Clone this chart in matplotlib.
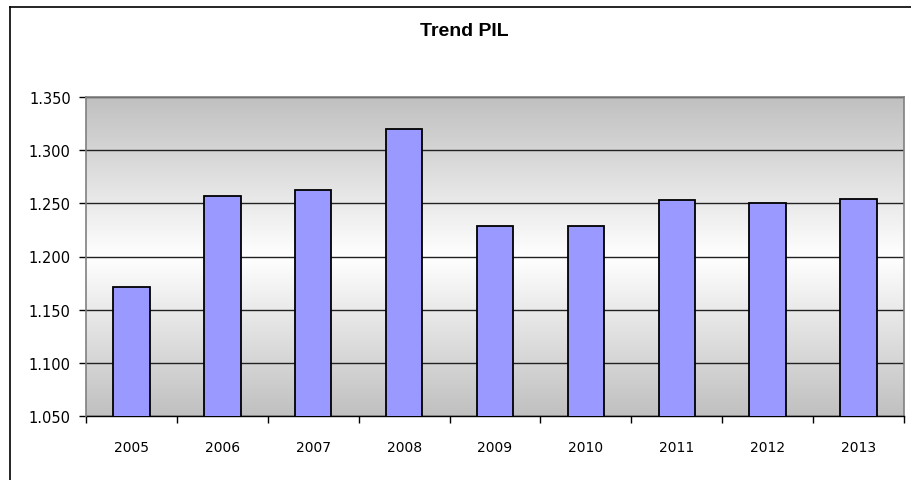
import numpy as np
import matplotlib
matplotlib.use("Agg")
import matplotlib.pyplot as plt
from matplotlib.colors import LinearSegmentedColormap
from matplotlib.ticker import FuncFormatter, FixedLocator
from matplotlib.lines import Line2D

years = ["2005", "2006", "2007", "2008", "2009", "2010", "2011", "2012", "2013"]
pil = [1171, 1257, 1263, 1320, 1229, 1229, 1253, 1250, 1254]
y_ticks = [1050, 1100, 1150, 1200, 1250, 1300, 1350]
title = "Trend PIL"

fig = plt.figure(figsize=(9.11, 4.81), dpi=100)
ax = fig.add_axes([86 / 911, 1 - 417 / 481, (904 - 86) / 911, (417 - 98) / 481])

# gradient background (gray - white - gray)
cmap = LinearSegmentedColormap.from_list("g", ["#c0c0c0", "#ffffff", "#c0c0c0"])
grad = np.linspace(0, 1, 256).reshape(-1, 1)
ax.imshow(grad, cmap=cmap, aspect="auto", extent=[0, 1, 0, 1],
          transform=ax.transAxes, zorder=0)

x = np.arange(len(years))
ax.bar(x, pil, width=0.4, color="#9999ff", edgecolor="black", linewidth=1.3, zorder=3)

ax.set_xlim(-0.5, len(years) - 0.5)
ax.set_ylim(y_ticks[0], y_ticks[-1])
ax.yaxis.set_major_locator(FixedLocator(y_ticks))
ax.yaxis.set_major_formatter(FuncFormatter(lambda v, p: f"{v:,.0f}".replace(",", ".")))
ax.grid(axis="y", color="#222222", linewidth=1.0, zorder=1)
ax.set_axisbelow(True)

ax.set_xticks(x)
ax.set_xticklabels(years)
ax.set_xticks(np.arange(-0.5, len(years)), minor=True)
ax.tick_params(axis="x", which="major", length=0, pad=17, labelsize=10)
ax.tick_params(axis="x", which="minor", length=5, width=1, direction="out")
ax.tick_params(axis="y", length=5, width=1, direction="out", labelsize=10.5, pad=6)

for s in ["top", "right", "left"]:
    ax.spines[s].set_color("#808080")
    ax.spines[s].set_linewidth(1.2)
ax.spines["bottom"].set_color("black")
ax.spines["bottom"].set_linewidth(1.0)
ax.spines["left"].set_zorder(5)

fig.text(464 / 911, 1 - 32 / 481, title, ha="center", va="center",
         fontsize=14, fontweight="bold", family="Liberation Sans")

# outer chart frame (partially visible)
fig.add_artist(Line2D([10 / 911, 10 / 911], [0, 1 - 8 / 481], color="black",
                      linewidth=1.2, transform=fig.transFigure))
fig.add_artist(Line2D([10 / 911, 1], [1 - 8 / 481, 1 - 8 / 481], color="black",
                      linewidth=1.2, transform=fig.transFigure))

fig.savefig("out.png", dpi=100, facecolor="white")
